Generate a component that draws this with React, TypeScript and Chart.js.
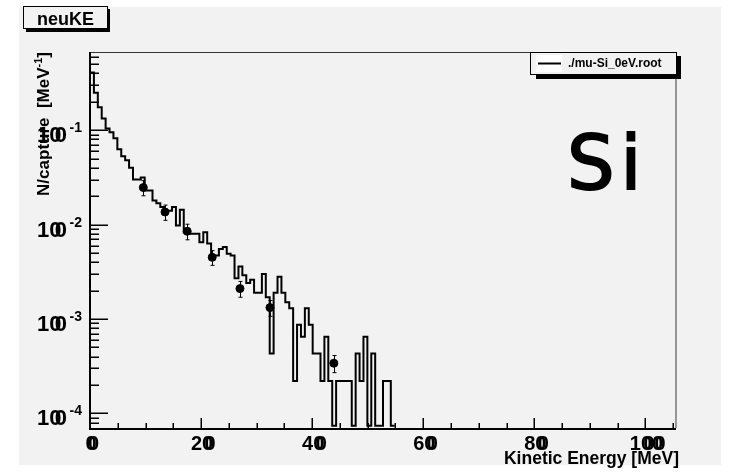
import React, { useEffect, useRef } from "react";
import { Chart, registerables } from "chart.js";

Chart.register(...registerables);

// ---- data ----
const xMin = 0;
const xMax = 105.5;
const yMin = 7.4e-5;
const yMax = 0.674;
const binWidth = 105.5 / 150;

// histogram contents (N/capture per MeV), bins of binWidth starting at 0
const binValues = [
  0.41, 0.25, 0.175, 0.133, 0.104, 0.095, 0.082, 0.063, 0.053, 0.048,
  0.04, 0.03, 0.03, 0.0315, 0.023, 0.023, 0.018, 0.0168, 0.0154, 0.0135,
  0.014, 0.0154, 0.0098, 0.0144, 0.0083, 0.008, 0.008, 0.008, 0.0065, 0.0083,
  0.0063, 0.0047, 0.0047, 0.0055, 0.0058, 0.0049, 0.0047, 0.0027, 0.0036, 0.0029,
  0.0024, 0.0026, 0.0019, 0.0019, 0.003, 0.0017, 0.00043, 0.0019, 0.0028, 0.0019,
  0.0015, 0.0013, 0.00022, 0.00087, 0.00065, 0.0013, 0.00087, 0.00043, 0.00043, 0.00022,
  0.00065, 0.00022, 0, 0.00022, 0.00022, 0.00022, 0.00022, 0, 0.00043, 0.00022,
  0.00065, 0, 0.00043, 0, 0, 0.00022, 0.00022, 0,
];

// measured data points with errors
const pointX = [9.6, 13.5, 17.5, 22.0, 27.0, 32.4, 43.9];
const pointY = [0.0247, 0.0136, 0.0085, 0.0045, 0.0021, 0.00132, 0.00034];
const pointErr = [0.0045, 0.0025, 0.0016, 0.0008, 0.0004, 0.00025, 0.00007];

const xTickValues = [0, 20, 40, 60, 80, 100];
const xTickLabels = ["0", "20", "40", "60", "80", "100"];
const yTickExponents = [-1, -2, -3, -4];

const titleText = "neuKE";
const legendText = "./mu-Si_0eV.root";
const elementText = "Si";
const xTitle = "Kinetic Energy [MeV]";
const yTitleMain = "N/capture  [MeV";
const yTitleSup = "-1";
const yTitleEnd = "]";

const FONT = '"Liberation Sans", Arial, Helvetica, sans-serif';

const rootPlugin = {
  id: "rootStyle",
  beforeDraw(chart: any) {
    const ctx = chart.ctx as CanvasRenderingContext2D;
    ctx.save();
    ctx.fillStyle = "#ffffff";
    ctx.fillRect(0, 0, chart.width, chart.height);
    ctx.fillStyle = "#f2f2f2";
    ctx.fillRect(19, 7, 702, 458);
    ctx.restore();
  },
  afterDatasetsDraw(chart: any) {
    const ctx = chart.ctx as CanvasRenderingContext2D;
    const xs = chart.scales.x;
    const ys = chart.scales.y;
    ctx.save();
    ctx.strokeStyle = "#000";
    ctx.lineWidth = 1;
    for (let i = 0; i < pointX.length; i++) {
      const px = Math.round(xs.getPixelForValue(pointX[i])) + 0.5;
      const top = ys.getPixelForValue(pointY[i] + pointErr[i]);
      const bot = ys.getPixelForValue(pointY[i] - pointErr[i]);
      ctx.beginPath();
      ctx.moveTo(px, top);
      ctx.lineTo(px, bot);
      ctx.moveTo(px - 2, top);
      ctx.lineTo(px + 2, top);
      ctx.moveTo(px - 2, bot);
      ctx.lineTo(px + 2, bot);
      ctx.stroke();
    }
    ctx.restore();
  },
  afterDraw(chart: any) {
    const ctx = chart.ctx as CanvasRenderingContext2D;
    const xs = chart.scales.x;
    const ys = chart.scales.y;
    const a = chart.chartArea;
    ctx.save();

    // frame (top and right)
    ctx.strokeStyle = "#333";
    ctx.lineWidth = 1;
    ctx.beginPath();
    ctx.moveTo(a.left, a.top + 0.5);
    ctx.lineTo(a.right, a.top + 0.5);
    ctx.stroke();
    ctx.strokeStyle = "#777";
    ctx.lineWidth = 1.5;
    ctx.beginPath();
    ctx.moveTo(a.right, a.top);
    ctx.lineTo(a.right, a.bottom);
    ctx.stroke();

    // axes
    ctx.strokeStyle = "#000";
    ctx.lineWidth = 2;
    ctx.beginPath();
    ctx.moveTo(a.left, a.top);
    ctx.lineTo(a.left, a.bottom + 1);
    ctx.lineTo(a.right, a.bottom + 1);
    ctx.stroke();

    // y ticks
    ctx.lineWidth = 1.5;
    for (let e = -6; e <= 0; e++) {
      for (let m = 1; m <= 9; m++) {
        const v = m * Math.pow(10, e);
        if (v < yMin || v > yMax) continue;
        const py = Math.round(ys.getPixelForValue(v)) + 0.25;
        const len = m === 1 ? 18 : 9;
        ctx.beginPath();
        ctx.moveTo(a.left, py);
        ctx.lineTo(a.left + len, py);
        ctx.stroke();
      }
    }
    // x ticks
    for (let v = 0; v <= xMax; v += 5) {
      const px = Math.round(xs.getPixelForValue(v)) + 0.25;
      const len = v % 20 === 0 ? 10 : 5;
      ctx.beginPath();
      ctx.moveTo(px, a.bottom);
      ctx.lineTo(px, a.bottom - len);
      ctx.stroke();
    }

    ctx.fillStyle = "#000";
    // x tick labels (zeros appear doubled in the reference)
    ctx.font = `bold 20px ${FONT}`;
    ctx.textBaseline = "alphabetic";
    for (let i = 0; i < xTickValues.length; i++) {
      const label = xTickLabels[i];
      const px = xs.getPixelForValue(xTickValues[i]) + 1;
      const w = ctx.measureText(label).width;
      const x0 = px - w / 2;
      ctx.textAlign = "left";
      ctx.fillText(label, x0, 450);
      let cx = x0;
      for (const ch of label) {
        const cw = ctx.measureText(ch).width;
        if (ch === "0") ctx.fillText(ch, cx + 2.5, 450);
        cx += cw;
      }
    }

    // y tick labels
    for (const e of yTickExponents) {
      const py = ys.getPixelForValue(Math.pow(10, e));
      ctx.font = `bold 22px ${FONT}`;
      ctx.textAlign = "left";
      const x0 = 37;
      ctx.fillText("10", x0, py + 12);
      const w1 = ctx.measureText("1").width;
      ctx.fillText("0", x0 + w1 + 5.5, py + 12);
      ctx.font = `bold 14px ${FONT}`;
      ctx.textAlign = "right";
      ctx.fillText(String(e), 82, py + 2);
    }

    // x title
    ctx.font = `bold 17.5px ${FONT}`;
    ctx.textAlign = "right";
    ctx.fillText(xTitle, a.right + 3, 464);

    // y title (rotated)
    ctx.save();
    ctx.translate(49, 0);
    ctx.rotate(-Math.PI / 2);
    ctx.textAlign = "left";
    ctx.font = `bold 17px ${FONT}`;
    const wMain = ctx.measureText(yTitleMain).width;
    const wEnd = ctx.measureText(yTitleEnd).width;
    ctx.font = `bold 11px ${FONT}`;
    const wSup = ctx.measureText(yTitleSup).width;
    let t = -52 - (wMain + wSup + wEnd);
    ctx.font = `bold 17px ${FONT}`;
    ctx.fillText(yTitleMain, t, 0);
    t += wMain;
    ctx.font = `bold 11px ${FONT}`;
    ctx.fillText(yTitleSup, t, -7);
    t += wSup;
    ctx.font = `bold 17px ${FONT}`;
    ctx.fillText(yTitleEnd, t, 0);
    ctx.restore();

    // title box
    ctx.fillStyle = "#000";
    ctx.fillRect(26, 9, 84, 23);
    ctx.fillStyle = "#f2f2f2";
    ctx.fillRect(23, 6, 85, 23);
    ctx.strokeStyle = "#000";
    ctx.lineWidth = 1;
    ctx.strokeRect(23.5, 6.5, 84, 22);
    ctx.fillStyle = "#000";
    ctx.font = `bold 18px ${FONT}`;
    ctx.textAlign = "center";
    ctx.fillText(titleText, 65.5, 25);

    // legend
    ctx.fillStyle = "#000";
    ctx.fillRect(536, 56, 145, 23);
    ctx.fillStyle = "#f2f2f2";
    ctx.fillRect(530, 52, 147, 23);
    ctx.strokeStyle = "#000";
    ctx.lineWidth = 1;
    ctx.strokeRect(530.5, 52.5, 146, 22);
    ctx.fillStyle = "#ffffff";
    ctx.fillRect(536, 55, 26, 17);
    ctx.strokeStyle = "#000";
    ctx.lineWidth = 2;
    ctx.beginPath();
    ctx.moveTo(538, 63.5);
    ctx.lineTo(561, 63.5);
    ctx.stroke();
    ctx.fillStyle = "#000";
    ctx.font = `bold 12px ${FONT}`;
    ctx.textAlign = "left";
    ctx.fillText(legendText, 568, 67);

    // element label
    ctx.font = `75px "DejaVu Sans", ${FONT}`;
    ctx.textAlign = "left";
    (ctx as any).letterSpacing = "6px";
    ctx.lineWidth = 2;
    ctx.strokeStyle = "#000";
    ctx.fillText(elementText, 567, 189);
    ctx.strokeText(elementText, 567, 189);
    (ctx as any).letterSpacing = "0px";

    ctx.restore();
  },
};

export default function App() {
  const ref = useRef<HTMLCanvasElement | null>(null);
  useEffect(() => {
    if (!ref.current) return;
    const hist = binValues.map((v, i) => ({ x: i * binWidth, y: v > 0 ? v : yMin }));
    hist.push({ x: binValues.length * binWidth, y: yMin });
    const pts = pointX.map((x, i) => ({ x, y: pointY[i] }));
    const chart = new Chart(ref.current, {
      type: "scatter",
      data: {
        datasets: [
          {
            data: hist,
            showLine: true,
            stepped: "before",
            borderColor: "#000",
            borderWidth: 2,
            pointRadius: 0,
            fill: false,
            order: 2,
          } as any,
          {
            data: pts,
            showLine: false,
            pointRadius: 4,
            pointBackgroundColor: "#000",
            pointBorderColor: "#000",
            borderColor: "#000",
            order: 1,
          } as any,
        ],
      },
      options: {
        responsive: false,
        animation: false,
        devicePixelRatio: 1,
        layout: { padding: { left: 90, right: 64, top: 52, bottom: 44 } },
        scales: {
          x: { type: "linear", min: xMin, max: xMax, display: false },
          y: { type: "logarithmic", min: yMin, max: yMax, display: false },
        },
        plugins: { legend: { display: false }, tooltip: { enabled: false } },
      } as any,
      plugins: [rootPlugin],
    });
    return () => chart.destroy();
  }, []);
  return (
    <div style={{ position: "absolute", left: 0, top: 0, width: 740, height: 472 }}>
      <canvas ref={ref} width={740} height={472} style={{ width: 740, height: 472, display: "block" }} />
    </div>
  );
}
